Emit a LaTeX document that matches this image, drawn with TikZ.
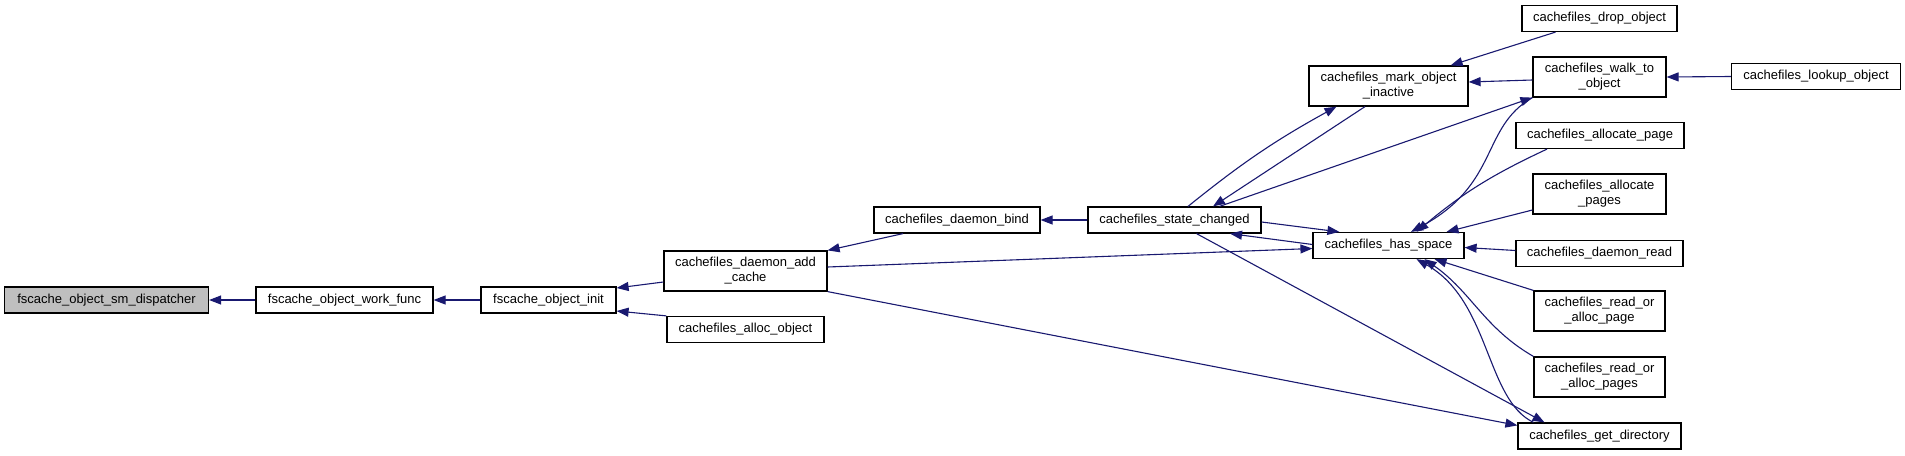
\documentclass[tikz,border=0pt]{standalone}
\usepackage{fontspec}
\setmainfont{Liberation Sans}
\usetikzlibrary{arrows.meta,calc}
\definecolor{callblue}{HTML}{191970}
\definecolor{rootgray}{HTML}{BFBFBF}

\begin{document}
\begin{tikzpicture}[x=1pt, y=-1pt,
    fnbox/.style={draw=black, fill=white, line width=1.2pt, inner sep=0pt, align=center,
                  minimum height=26pt, font=\fontsize{13}{15}\selectfont},
    twoline/.style={minimum height=40pt},
    calls/.style={draw=callblue, line width=1.1pt, -{Triangle[length=12pt,width=9pt]}}]
  \useasboundingbox (0,0) rectangle (1905,455);
  \node[fnbox, fill=rootgray, minimum width=204pt] (disp) at (106.5,300) {fscache\_object\_sm\_dispatcher};
  \node[fnbox, minimum width=177pt] (work) at (344.5,300) {fscache\_object\_work\_func};
  \node[fnbox, minimum width=135pt] (init) at (548.5,300) {fscache\_object\_init};
  \node[fnbox, twoline, minimum width=163pt] (addc) at (745.5,271) {cachefiles\_daemon\_add\\\_cache};
  \node[fnbox, minimum width=157pt] (alloc) at (745.5,329.5) {cachefiles\_alloc\_object};
  \node[fnbox, minimum width=166pt] (bind) at (957,220) {cachefiles\_daemon\_bind};
  \node[fnbox, minimum width=173pt] (state) at (1174.5,220) {cachefiles\_state\_changed};
  \node[fnbox, twoline, minimum width=159pt] (mark) at (1388.5,86) {cachefiles\_mark\_object\\\_inactive};
  \node[fnbox, minimum width=151pt] (space) at (1388.5,245.5) {cachefiles\_has\_space};
  \node[fnbox, minimum width=155pt] (drop) at (1599.5,18.5) {cachefiles\_drop\_object};
  \node[fnbox, twoline, minimum width=133pt] (walk) at (1599.5,77) {cachefiles\_walk\_to\\\_object};
  \node[fnbox, minimum width=169pt] (lookup) at (1816,76.5) {cachefiles\_lookup\_object};
  \node[fnbox, minimum width=168pt] (apage) at (1600,135.5) {cachefiles\_allocate\_page};
  \node[fnbox, twoline, minimum width=133pt] (apages) at (1599.5,194) {cachefiles\_allocate\\\_pages};
  \node[fnbox, minimum width=167pt] (dread) at (1599.5,253.5) {cachefiles\_daemon\_read};
  \node[fnbox, twoline, minimum width=131pt] (rpage) at (1599.5,311) {cachefiles\_read\_or\\\_alloc\_page};
  \node[fnbox, twoline, minimum width=131pt] (rpages) at (1599.5,377) {cachefiles\_read\_or\\\_alloc\_pages};
  \node[fnbox, minimum width=163pt] (getdir) at (1599.5,436) {cachefiles\_get\_directory};
  % callers point back at the function they call
  \draw[calls] (work.west) -- (disp.east);
  \draw[calls] (init.west) -- (work.east);
  \draw[calls] ($(addc.west)+(0,11)$) -- ($(init.east)+(0,-12)$);
  \draw[calls] (alloc.north west) -- ($(init.east)+(0,11)$);
  \draw[calls] ($(bind.south)+(-54,0)$) -- (addc.north east);
  \draw[calls] (state.west) -- (bind.east);
  \draw[calls] ($(mark.south)+(-23.5,0)$) -- ($(state.north)+(38.5,0)$);
  \draw[calls] ($(state.north)+(13.5,0)$) to[bend left=5] ($(mark.south)+(-52,0)$);
  \draw[calls] ($(state.north)+(45,0)$) -- (walk.south west);
  \draw[calls] (walk.south west) .. controls +(-52,30) and +(89,-48) .. ($(space.north)+(22.5,0)$);
  \draw[calls] ($(apage.south)+(-53,0)$) to[out=205,in=40] ($(space.north)+(28,0)$);
  \draw[calls] ($(apages.west)+(0,16)$) -- ($(space.north)+(58,0)$);
  \draw[calls] ($(dread.west)+(0,-3)$) -- ($(space.east)+(0,2)$);
  \draw[calls] (rpage.north west) -- ($(space.south)+(46,0)$);
  \draw[calls] (rpages.north west) to[out=150,in=-35] ($(space.south)+(36,0)$);
  \draw[calls] ($(getdir.north)+(-66,0)$) .. controls +(-48,-23) and +(74,42) .. ($(space.south)+(28,0)$);
  \draw[calls] ($(state.south)+(22,0)$) -- ($(getdir.north)+(-55,0)$);
  \draw[calls] ($(addc.east)+(0,-4)$) -- ($(space.west)+(0,3)$);
  \draw[calls] ($(space.west)+(0,-1)$) -- ($(state.south)+(55.5,0)$);
  \draw[calls] ($(state.east)+(0,2)$) -- ($(space.north west)+(27,0)$);
  \draw[calls] (addc.south east) -- ($(getdir.north west)+(0,3)$);
  \draw[calls] ($(drop.south)+(-44,0)$) -- ($(mark.north east)+(-18,0)$);
  \draw[calls] ($(walk.west)+(0,3)$) -- ($(mark.east)+(0,-4)$);
  \draw[calls] (lookup.west) -- (walk.east);
\end{tikzpicture}
\end{document}
